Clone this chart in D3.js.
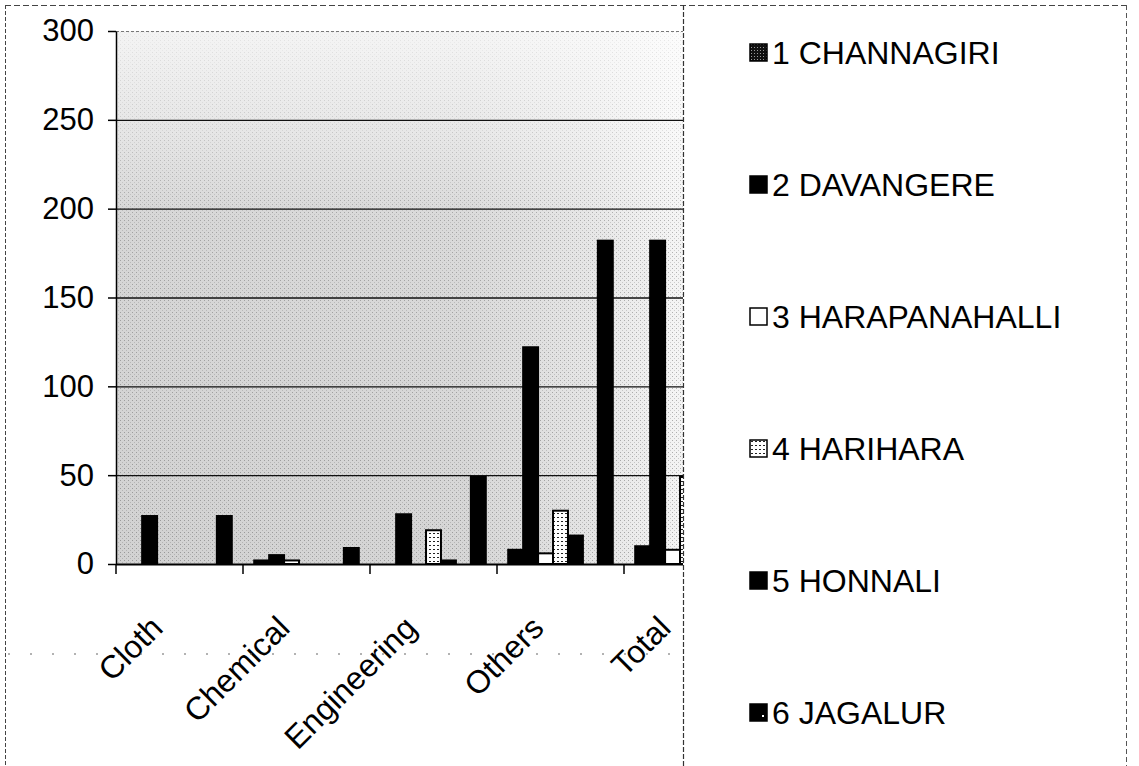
<!DOCTYPE html>
<html>
<head>
<meta charset="utf-8">
<script src="https://cdn.jsdelivr.net/npm/d3@7"></script>
<style>
  html, body { margin: 0; padding: 0; background: #ffffff; }
  svg { display: block; }
  text { font-family: "Liberation Sans", Arial, sans-serif; fill: #000; }
</style>
</head>
<body>
<svg id="chart" width="1139" height="766"></svg>
<script>
// ---- data ----
const categories = ["Cloth", "Chemical", "Engineering", "Others", "Total"];
const seriesNames = ["1 CHANNAGIRI", "2 DAVANGERE", "3 HARAPANAHALLI", "4 HARIHARA", "5 HONNALI", "6 JAGALUR", "Total"];
const channagiri    = [0, 2, 0, 8, 10];
const davangere     = [27, 5, 28, 122, 182];
const harapanahalli = [0, 2, 0, 6, 8];
const harihara      = [0, 0, 19, 30, 49];
const honnali       = [0, 0, 2, 16, 18];
const jagalur       = [0, 0, 0, 0, 0];
const totalRow      = [27, 9, 49, 182, 267];
const yTicks = [0, 50, 100, 150, 200, 250, 300];
const legendCount = 6; // the legend lists the six taluks only

const seriesValues = [channagiri, davangere, harapanahalli, harihara, honnali, jagalur, totalRow];
const seriesFill = ["#000", "#000", "#fff", "url(#hari)", "#000", "#000", "#000"];

const svg = d3.select("#chart");
const defs = svg.append("defs");

// halftone-like texture of the plot area
const bgGrad = defs.append("linearGradient").attr("id", "bgGrad").attr("x1", "0").attr("x2", "1").attr("y1", "0").attr("y2", "0");
[["0%", "#d2d2d2"], ["55%", "#d6d6d6"], ["75%", "#e4e4e4"], ["88%", "#f3f3f3"], ["100%", "#f8f8f8"]]
  .forEach(([o, c]) => bgGrad.append("stop").attr("offset", o).attr("stop-color", c));
const topGrad = defs.append("linearGradient").attr("id", "topGrad").attr("x1", "0").attr("x2", "0").attr("y1", "0").attr("y2", "1");
[["0%", 0.75], ["18%", 0.45], ["35%", 0.1], ["100%", 0]]
  .forEach(([o, a]) => topGrad.append("stop").attr("offset", o).attr("stop-color", "#fff").attr("stop-opacity", a));
const speck = defs.append("pattern").attr("id", "speck").attr("width", 4).attr("height", 4).attr("patternUnits", "userSpaceOnUse");
speck.append("rect").attr("x", 0).attr("y", 0).attr("width", 1).attr("height", 1).attr("fill", "#555").attr("opacity", 0.45);
speck.append("rect").attr("x", 2).attr("y", 2).attr("width", 1).attr("height", 1).attr("fill", "#777").attr("opacity", 0.35);

// Harihara dotted fill
const hari = defs.append("pattern").attr("id", "hari").attr("width", 4).attr("height", 4).attr("patternUnits", "userSpaceOnUse");
hari.append("rect").attr("width", 4).attr("height", 4).attr("fill", "#fff");
hari.append("rect").attr("x", 1).attr("y", 1).attr("width", 2).attr("height", 1).attr("fill", "#222");
// Channagiri legend fill
const chan = defs.append("pattern").attr("id", "chan").attr("width", 3).attr("height", 3).attr("patternUnits", "userSpaceOnUse");
chan.append("rect").attr("width", 3).attr("height", 3).attr("fill", "#111");
chan.append("rect").attr("x", 1).attr("y", 1).attr("width", 1).attr("height", 1).attr("fill", "#999");

// ---- layout ----
const plot = { left: 116, top: 31, bottom: 564, catW: 127 };
const x0 = d3.scaleBand().domain(categories)
  .range([plot.left, plot.left + plot.catW * categories.length]).paddingInner(0).paddingOuter(0);
const x1 = d3.scaleBand().domain(d3.range(seriesNames.length))
  .range([0, x0.bandwidth()]).paddingInner(0).paddingOuter(0.75);
const y = d3.scaleLinear().domain([0, 300]).range([plot.bottom, plot.top]);

// plot area background
const plotRight = x0.range()[1];
["url(#bgGrad)", "url(#speck)", "url(#topGrad)"].forEach(f =>
  svg.append("rect").attr("x", plot.left).attr("y", y(300)).attr("width", plotRight - plot.left)
    .attr("height", y(0) - y(300)).attr("fill", f));

// gridlines
svg.append("g").selectAll("line").data(yTicks.filter(d => d > 0)).join("line")
  .attr("x1", plot.left).attr("x2", plotRight)
  .attr("y1", d => y(d) + 0.5).attr("y2", d => y(d) + 0.5)
  .attr("stroke", d => d === 300 ? "#777" : "#111")
  .attr("stroke-width", d => d === 300 ? 1 : 1.3)
  .attr("stroke-dasharray", d => d === 300 ? "3,2" : null);

// bars
const groups = svg.append("g").selectAll("g").data(seriesNames).join("g");
groups.selectAll("rect")
  .data((s, si) => categories.map((c, ci) => ({ c, si, v: seriesValues[si][ci] })).filter(d => d.v > 0))
  .join("rect")
  .attr("x", d => x0(d.c) + x1(d.si))
  .attr("y", d => y(d.v))
  .attr("width", x1.bandwidth())
  .attr("height", d => y(0) - y(d.v))
  .attr("fill", d => seriesFill[d.si])
  .attr("stroke", "#000").attr("stroke-width", 2);

// axes
const yAxis = d3.axisLeft(y).tickValues(yTicks).tickSize(8).tickSizeOuter(0).tickPadding(14);
const gy = svg.append("g").attr("transform", `translate(${plot.left},0)`).call(yAxis);
gy.select(".domain").attr("stroke", "#000").attr("stroke-width", 1.5);
gy.selectAll(".tick line").attr("stroke", "#000").attr("stroke-width", 1.5);
gy.selectAll(".tick text").style("font-size", "31px").attr("fill", "#000")
  .style("font-family", "'Liberation Sans', Arial, sans-serif");

const gx = svg.append("g").attr("transform", `translate(0,${plot.bottom})`);
gx.append("line").attr("x1", plot.left).attr("x2", plotRight).attr("y1", 0.5).attr("y2", 0.5)
  .attr("stroke", "#000").attr("stroke-width", 2);
gx.selectAll("line.tk").data(categories.concat(["_end"])).join("line").attr("class", "tk")
  .attr("x1", (d, i) => plot.left + i * x0.step()).attr("x2", (d, i) => plot.left + i * x0.step())
  .attr("y1", 0).attr("y2", 10).attr("stroke", "#000").attr("stroke-width", 1.5);
gx.selectAll("text").data(categories).join("text")
  .attr("transform", d => `translate(${x0(d) + x0.bandwidth() / 2 - 15},${66}) rotate(-45)`)
  .attr("text-anchor", "end")
  .style("font-size", "32px")
  .text(d => d);

// scan artefact: sparse dotted line across the lower part
svg.append("line").attr("x1", 8).attr("x2", 1125).attr("y1", 654).attr("y2", 654)
  .attr("stroke", "#666").attr("stroke-width", 1).attr("stroke-dasharray", "2,20");

// outer frame (dashed, as scanned)
svg.append("line").attr("x1", 5.5).attr("x2", 5.5).attr("y1", 5).attr("y2", 766)
  .attr("stroke", "#444").attr("stroke-dasharray", "4,2");
svg.append("line").attr("x1", 5).attr("x2", 1127).attr("y1", 5.5).attr("y2", 5.5)
  .attr("stroke", "#444").attr("stroke-dasharray", "6,3");

// legend box (covers the right end of the plot)
const lg = svg.append("g");
lg.append("rect").attr("x", 683).attr("y", 6).attr("width", 444).attr("height", 770).attr("fill", "#fff");
lg.append("line").attr("x1", 683.5).attr("x2", 683.5).attr("y1", 5).attr("y2", 766)
  .attr("stroke", "#333").attr("stroke-width", 1.2).attr("stroke-dasharray", "5,2");
lg.append("line").attr("x1", 1126.5).attr("x2", 1126.5).attr("y1", 5).attr("y2", 766)
  .attr("stroke", "#555").attr("stroke-dasharray", "5,3");

const legendFill = ["url(#chan)", "#000", "#fff", "url(#hari)", "#000", "#000"];
const ly = d3.scaleLinear().domain([0, legendCount - 1]).range([52, 712]);
const items = lg.selectAll("g.item").data(seriesNames.slice(0, legendCount)).join("g").attr("class", "item")
  .attr("transform", (d, i) => `translate(750,${ly(i)})`);
items.append("rect").attr("x", 0).attr("y", -8).attr("width", 17).attr("height", 17)
  .attr("fill", (d, i) => legendFill[i]).attr("stroke", "#000").attr("stroke-width", 1.5);
items.filter((d, i) => i === 5).append("rect").attr("x", 12).attr("y", 3).attr("width", 2).attr("height", 2).attr("fill", "#fff");
items.append("text").attr("x", 22).attr("y", 12).style("font-size", "32px").text(d => d);
</script>
</body>
</html>
